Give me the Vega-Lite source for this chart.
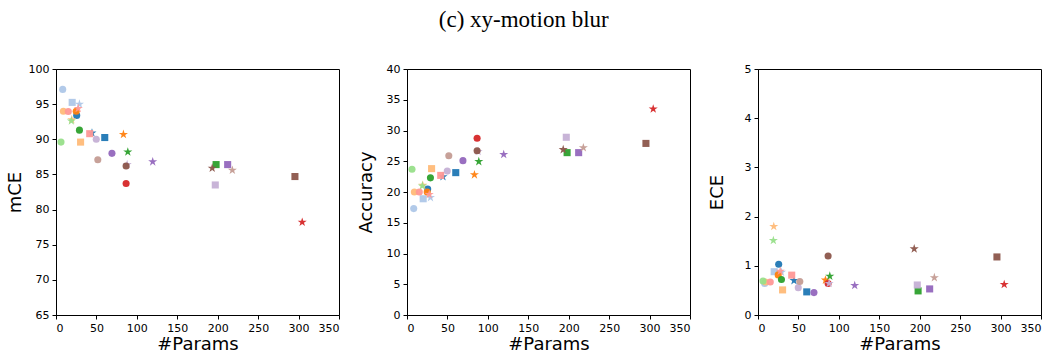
{
  "$schema": "https://vega.github.io/schema/vega-lite/v6.json",
  "padding": {"left": 5, "top": 8, "right": 5, "bottom": 0},
  "background": "white",
  "title": {"text": "(c) xy-motion blur", "font": "Liberation Serif", "fontSize": 23, "fontWeight": "normal", "anchor": "middle", "offset": 31, "color": "black"},
  "config": {
    "view": {"stroke": "black", "strokeWidth": 1},
    "axis": {"domainColor": "black", "tickColor": "black", "labelColor": "black", "titleColor": "black", "labelFont": "DejaVu Sans", "titleFont": "DejaVu Sans", "labelFontSize": 11, "titleFontSize": 18, "titleFontWeight": "normal", "grid": false, "tickSize": 4, "labelPadding": 3},
    "axisY": {"minExtent": 30, "maxExtent": 30, "titlePadding": 2},
    "axisX": {"titleY": 34, "titleBaseline": "alphabetic"},
    "concat": {"spacing": 16},
    "point": {"filled": true, "opacity": 0.95, "strokeWidth": 0, "size": 50}
  },
  "datasets": {"pts": [
    {"family": "blue", "shape": "circle", "params": 25.6, "mce": 93.4, "acc": 20.5, "ece": 1.03},
    {"family": "blue", "shape": "square", "params": 60.3, "mce": 90.25, "acc": 23.15, "ece": 0.47},
    {"family": "blue", "shape": "star", "params": 44.5, "mce": 90.9, "acc": 22.5, "ece": 0.70},
    {"family": "lightblue", "shape": "circle", "params": 8.3, "mce": 97.1, "acc": 17.3, "ece": 0.64},
    {"family": "lightblue", "shape": "square", "params": 20.0, "mce": 95.25, "acc": 18.9, "ece": 0.88},
    {"family": "lightblue", "shape": "star", "params": 29.0, "mce": 95.0, "acc": 19.1, "ece": 0.87},
    {"family": "orange", "shape": "circle", "params": 25.0, "mce": 94.0, "acc": 20.0, "ece": 0.815},
    {"family": "orange", "shape": "star", "params": 83.4, "mce": 90.7, "acc": 22.8, "ece": 0.71},
    {"family": "lightorange", "shape": "circle", "params": 9.1, "mce": 94.0, "acc": 20.0, "ece": 0.67},
    {"family": "lightorange", "shape": "square", "params": 30.4, "mce": 89.6, "acc": 23.8, "ece": 0.51},
    {"family": "lightorange", "shape": "star", "params": 19.5, "mce": 92.8, "acc": 21.1, "ece": 1.80},
    {"family": "green", "shape": "circle", "params": 29.0, "mce": 91.3, "acc": 22.3, "ece": 0.72},
    {"family": "green", "shape": "square", "params": 198.0, "mce": 86.4, "acc": 26.4, "ece": 0.49},
    {"family": "green", "shape": "star", "params": 88.8, "mce": 88.2, "acc": 24.95, "ece": 0.79},
    {"family": "lightgreen", "shape": "circle", "params": 6.2, "mce": 89.6, "acc": 23.7, "ece": 0.69},
    {"family": "lightgreen", "shape": "star", "params": 19.0, "mce": 92.6, "acc": 21.0, "ece": 1.515},
    {"family": "red", "shape": "circle", "params": 86.7, "mce": 83.7, "acc": 28.75, "ece": 0.64},
    {"family": "red", "shape": "star", "params": 304.5, "mce": 78.2, "acc": 33.5, "ece": 0.62},
    {"family": "pink", "shape": "circle", "params": 15.2, "mce": 93.96, "acc": 20.0, "ece": 0.67},
    {"family": "pink", "shape": "square", "params": 41.7, "mce": 90.8, "acc": 22.7, "ece": 0.81},
    {"family": "pink", "shape": "star", "params": 27.5, "mce": 94.4, "acc": 19.6, "ece": 0.89},
    {"family": "purple", "shape": "circle", "params": 69.2, "mce": 88.0, "acc": 25.1, "ece": 0.455},
    {"family": "purple", "shape": "square", "params": 212.3, "mce": 86.4, "acc": 26.4, "ece": 0.53},
    {"family": "purple", "shape": "star", "params": 119.6, "mce": 86.8, "acc": 26.1, "ece": 0.60},
    {"family": "lightpurple", "shape": "circle", "params": 49.8, "mce": 90.0, "acc": 23.4, "ece": 0.556},
    {"family": "lightpurple", "shape": "square", "params": 197.0, "mce": 83.5, "acc": 28.9, "ece": 0.61},
    {"family": "lightpurple", "shape": "star", "params": 88.0, "mce": 86.4, "acc": 26.6, "ece": 0.64},
    {"family": "brown", "shape": "circle", "params": 86.7, "mce": 86.2, "acc": 26.7, "ece": 1.20},
    {"family": "brown", "shape": "square", "params": 295.5, "mce": 84.7, "acc": 27.9, "ece": 1.18},
    {"family": "brown", "shape": "star", "params": 193.2, "mce": 85.9, "acc": 26.9, "ece": 1.345},
    {"family": "tan", "shape": "circle", "params": 51.7, "mce": 87.1, "acc": 25.9, "ece": 0.68},
    {"family": "tan", "shape": "star", "params": 218.1, "mce": 85.6, "acc": 27.2, "ece": 0.76}
  ]},
  "data": {"name": "pts"},
  "hconcat": [
    {
      "width": 283, "height": 246,
      "mark": {"type": "point"},
      "encoding": {
        "x": {"field": "params", "type": "quantitative", "title": "#Params", "scale": {"domain": [0, 350], "nice": false, "zero": false}, "axis": {"values": [0, 50, 100, 150, 200, 250, 300, 350]}},
        "y": {"field": "mce", "type": "quantitative", "title": "mCE", "scale": {"domain": [65, 100], "nice": false, "zero": false}, "axis": {"values": [65, 70, 75, 80, 85, 90, 95, 100]}},
        "color": {"field": "family", "type": "nominal", "legend": null, "scale": {"domain": ["blue", "lightblue", "orange", "lightorange", "green", "lightgreen", "red", "pink", "purple", "lightpurple", "brown", "tan"], "range": ["#1f77b4", "#aec7e8", "#ff7f0e", "#ffbb78", "#2ca02c", "#98df8a", "#d62728", "#ff9896", "#9467bd", "#c5b0d5", "#8c564b", "#c49c94"]}},
        "shape": {"field": "shape", "type": "nominal", "legend": null, "scale": {"domain": ["circle", "square", "star"], "range": ["circle", "square", "M0,-1.35L0.303,-0.417L1.284,-0.417L0.49,0.159L0.794,1.092L0,0.516L-0.794,1.092L-0.49,0.159L-1.284,-0.417L-0.303,-0.417Z"]}}
      }
    },
    {
      "width": 283, "height": 246,
      "mark": {"type": "point"},
      "encoding": {
        "x": {"field": "params", "type": "quantitative", "title": "#Params", "scale": {"domain": [0, 350], "nice": false, "zero": false}, "axis": {"values": [0, 50, 100, 150, 200, 250, 300, 350]}},
        "y": {"field": "acc", "type": "quantitative", "title": "Accuracy", "scale": {"domain": [0, 40], "nice": false}, "axis": {"values": [0, 5, 10, 15, 20, 25, 30, 35, 40]}},
        "color": {"field": "family", "type": "nominal", "legend": null, "scale": {"domain": ["blue", "lightblue", "orange", "lightorange", "green", "lightgreen", "red", "pink", "purple", "lightpurple", "brown", "tan"], "range": ["#1f77b4", "#aec7e8", "#ff7f0e", "#ffbb78", "#2ca02c", "#98df8a", "#d62728", "#ff9896", "#9467bd", "#c5b0d5", "#8c564b", "#c49c94"]}},
        "shape": {"field": "shape", "type": "nominal", "legend": null, "scale": {"domain": ["circle", "square", "star"], "range": ["circle", "square", "M0,-1.35L0.303,-0.417L1.284,-0.417L0.49,0.159L0.794,1.092L0,0.516L-0.794,1.092L-0.49,0.159L-1.284,-0.417L-0.303,-0.417Z"]}}
      }
    },
    {
      "width": 283, "height": 246,
      "mark": {"type": "point"},
      "encoding": {
        "x": {"field": "params", "type": "quantitative", "title": "#Params", "scale": {"domain": [0, 350], "nice": false, "zero": false}, "axis": {"values": [0, 50, 100, 150, 200, 250, 300, 350]}},
        "y": {"field": "ece", "type": "quantitative", "title": "ECE", "scale": {"domain": [0, 5], "nice": false}, "axis": {"values": [0, 1, 2, 3, 4, 5]}},
        "color": {"field": "family", "type": "nominal", "legend": null, "scale": {"domain": ["blue", "lightblue", "orange", "lightorange", "green", "lightgreen", "red", "pink", "purple", "lightpurple", "brown", "tan"], "range": ["#1f77b4", "#aec7e8", "#ff7f0e", "#ffbb78", "#2ca02c", "#98df8a", "#d62728", "#ff9896", "#9467bd", "#c5b0d5", "#8c564b", "#c49c94"]}},
        "shape": {"field": "shape", "type": "nominal", "legend": null, "scale": {"domain": ["circle", "square", "star"], "range": ["circle", "square", "M0,-1.35L0.303,-0.417L1.284,-0.417L0.49,0.159L0.794,1.092L0,0.516L-0.794,1.092L-0.49,0.159L-1.284,-0.417L-0.303,-0.417Z"]}}
      }
    }
  ],
  "resolve": {"scale": {"color": "shared", "shape": "shared"}}
}
